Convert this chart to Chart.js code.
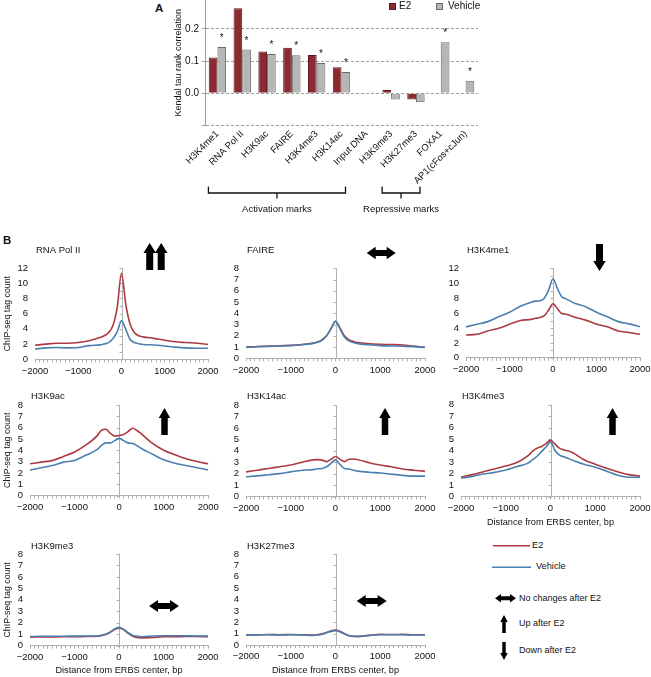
<!DOCTYPE html>
<html><head><meta charset="utf-8">
<script src="https://cdn.jsdelivr.net/npm/chart.js@4.4.1/dist/chart.umd.min.js"></script>
<style>
html,body{margin:0;padding:0;background:#fff;}
#root{position:relative;width:651px;height:677px;overflow:hidden;font-family:"Liberation Sans",Arial,sans-serif;color:#111;}
canvas{position:absolute;}
.t{position:absolute;white-space:nowrap;line-height:1;transform:translateY(-50%);}
#ov{position:absolute;left:0;top:0;z-index:5;}
</style></head><body><div id="root"></div>
<script>
// ---------- DATA: panel A ----------
const categories = ['H3K4me1','RNA Pol II','H3K9ac','FAIRE','H3K4me3','H3K14ac','Input DNA','H3K9me3','H3K27me3','FOXA1','AP1(cFos+cJun)'];
const e2Corr  = [0.111, 0.264, 0.130, 0.142, 0.119, 0.081, -0.002, 0.010, -0.019, null, null];
const vehCorr = [0.144, 0.136, 0.122, 0.118, 0.094, 0.066, 0.000, -0.019, -0.028, 0.159, 0.039];
const significant = [true, true, true, true, true, true, false, false, false, true, true];
const groupLabels = ['Activation marks', 'Repressive marks'];
const groupStart = [0, 7];
const groupEnd = [5, 8];
const corrTicks = [0, 0.1, 0.2];

// ---------- DATA: panel B ----------
const distanceBp = [-2000,-1750,-1500,-1250,-1000,-750,-500,-400,-300,-200,-100,0,100,200,300,400,500,750,1000,1250,1500,1750,2000];
const rnaPolE2   = [1.85,2.0,2.1,2.1,2.2,2.45,2.85,3.1,3.5,4.4,6.8,11.3,7.2,4.6,3.5,3.1,2.95,2.75,2.5,2.3,2.2,2.1,1.95];
const rnaPolVeh  = [1.35,1.5,1.55,1.5,1.55,1.8,1.9,2.0,2.2,2.7,3.6,5.1,3.9,2.6,2.2,2.05,1.95,1.88,1.75,1.6,1.5,1.45,1.45];
const faireE2    = [1.0,1.05,1.08,1.12,1.15,1.22,1.35,1.45,1.65,2.0,2.65,3.3,2.7,2.0,1.65,1.5,1.4,1.3,1.25,1.22,1.18,1.08,0.98];
const faireVeh   = [0.97,1.02,1.05,1.1,1.13,1.2,1.32,1.42,1.62,2.0,2.62,3.28,2.62,1.9,1.55,1.4,1.3,1.2,1.13,1.1,1.07,1.02,0.97];
const k4me1E2    = [3.05,3.15,3.6,3.95,4.5,5.0,5.15,5.3,5.4,5.65,6.4,7.25,6.6,5.95,5.85,5.65,5.45,5.05,4.5,4.15,3.6,3.4,3.15];
const k4me1Veh   = [4.15,4.5,4.85,5.5,6.1,6.9,7.45,7.6,7.65,8.0,9.1,10.6,9.3,8.2,7.9,7.6,7.3,6.85,6.1,5.5,4.85,4.55,4.15];
const k9acE2     = [2.8,2.95,3.1,3.45,3.85,4.45,5.25,5.75,5.85,5.5,5.25,5.3,5.4,5.65,5.95,5.75,5.45,4.6,4.0,3.6,3.25,3.0,2.8];
const k9acVeh    = [2.25,2.45,2.65,2.95,3.1,3.55,4.05,4.4,4.65,4.65,4.85,5.05,4.85,4.65,4.6,4.4,4.15,3.65,3.15,2.85,2.65,2.45,2.25];
const k14acE2    = [2.15,2.3,2.45,2.6,2.75,3.0,3.2,3.22,3.18,3.05,3.25,3.5,3.25,3.05,3.25,3.28,3.22,2.95,2.75,2.6,2.4,2.3,2.2];
const k14acVeh   = [1.72,1.8,1.9,2.0,2.15,2.3,2.35,2.42,2.45,2.6,2.9,3.2,2.8,2.45,2.4,2.3,2.22,2.12,2.06,1.95,1.85,1.78,1.78];
const k4me3E2    = [1.7,1.9,2.15,2.4,2.65,2.95,3.55,3.95,4.2,4.35,4.6,4.9,4.55,4.2,4.05,3.95,3.8,3.2,2.8,2.45,2.15,1.9,1.78];
const k4me3Veh   = [1.58,1.75,1.95,2.1,2.3,2.6,2.9,3.2,3.5,3.9,4.3,4.75,4.0,3.6,3.45,3.3,3.15,2.8,2.55,2.2,1.85,1.68,1.68];
const k9me3E2    = [0.75,0.76,0.77,0.78,0.78,0.8,0.82,0.88,0.98,1.15,1.4,1.52,1.4,1.1,0.85,0.72,0.68,0.72,0.78,0.78,0.8,0.8,0.78];
const k9me3Veh   = [0.8,0.82,0.82,0.83,0.84,0.84,0.84,0.9,1.0,1.2,1.45,1.6,1.45,1.15,0.92,0.82,0.78,0.85,0.87,0.87,0.86,0.85,0.84];
const k27me3E2   = [0.9,0.88,0.92,0.9,0.92,0.9,0.87,0.9,0.98,1.1,1.25,1.32,1.2,1.0,0.82,0.75,0.74,0.85,0.93,0.92,0.93,0.9,0.9];
const k27me3Veh  = [0.88,0.9,0.9,0.88,0.9,0.88,0.85,0.88,0.95,1.07,1.2,1.26,1.15,0.97,0.83,0.78,0.77,0.85,0.9,0.9,0.9,0.88,0.88];
const panelNames = ['RNA Pol II','FAIRE','H3K4me1','H3K9ac','H3K14ac','H3K4me3','H3K9me3','H3K27me3'];
const seriesNames = ['E2','Vehicle'];

// ---------- STYLE ----------
const FONT = '"Liberation Sans", Arial, sans-serif';
const RED = '#ab3b40', BLUE = '#4a7fb0';
Chart.defaults.font.family = FONT;
Chart.defaults.color = '#1a1a1a';
const root = document.getElementById('root');

function addCanvas(r){
  const c = document.createElement('canvas');
  c.width = r.w; c.height = r.h;
  c.style.left = r.x+'px'; c.style.top = r.y+'px';
  c.style.width = r.w+'px'; c.style.height = r.h+'px';
  root.appendChild(c); return c;
}
function addText(txt, x, y, size, extra){
  const d = document.createElement('div');
  d.className = 't'; d.textContent = txt;
  d.style.left = x+'px'; d.style.top = y+'px'; d.style.fontSize = size+'px';
  if (extra) Object.assign(d.style, extra);
  root.appendChild(d); return d;
}

// ---------- PANEL A ----------
const barDecor = {
  id: 'barDecor',
  afterDatasetsDraw(chart){
    const ctx = chart.ctx, meta = chart.getDatasetMeta(1);
    ctx.save();
    ctx.fillStyle = '#111'; ctx.font = '10px '+FONT; ctx.textAlign = 'center'; ctx.textBaseline = 'alphabetic';
    significant.forEach((s,i)=>{ if(!s) return; const el = meta.data[i]; ctx.fillText('*', el.x, el.y - 6); });
    ctx.restore();
  },
  afterDraw(chart){
    const ctx = chart.ctx, xs = chart.scales.x;
    ctx.save();
    ctx.strokeStyle = '#111'; ctx.lineWidth = 1.3;
    ctx.fillStyle = '#111'; ctx.font = '9.5px '+FONT; ctx.textAlign = 'center'; ctx.textBaseline = 'middle';
    groupLabels.forEach((lab,g)=>{
      const a = xs.getPixelForValue(groupStart[g]) - 9, b = xs.getPixelForValue(groupEnd[g]) + 4, m = (a+b)/2;
      ctx.beginPath();
      ctx.moveTo(a, 186.5); ctx.lineTo(a, 193); ctx.lineTo(b, 193); ctx.lineTo(b, 186.5);
      ctx.moveTo(m, 193); ctx.lineTo(m, 198.5);
      ctx.stroke();
      ctx.fillText(lab, m, 209);
    });
    ctx.restore();
  }
};
(function(){
  const r = {x:170, y:0, w:330, h:220};
  const plot = {l:205, r:478, t:0, b:125.5};
  new Chart(addCanvas(r), {
    type: 'bar',
    data: { labels: categories, datasets: [
      {label: seriesNames[0], data: e2Corr, backgroundColor:'#8b2a32', borderColor:'#5c1a20', borderWidth:1},
      {label: seriesNames[1], data: vehCorr, backgroundColor:'#b6b6b6', borderColor:'#6a6a6a', borderWidth:1}
    ]},
    options: {
      responsive:false, devicePixelRatio:1, animation:false, events:[],
      layout:{padding:{left:0, top:plot.t - r.y, right:r.x + r.w - plot.r, bottom:0}},
      datasets:{bar:{categoryPercentage:0.7, barPercentage:1.0}},
      plugins:{legend:{display:false}, tooltip:{enabled:false}},
      scales:{
        x:{
          afterFit(s){ s.height = r.y + r.h - plot.b; s.paddingLeft = 0; s.paddingRight = 0; },
          grid:{display:false, drawTicks:false}, border:{display:false},
          ticks:{autoSkip:false, minRotation:45, maxRotation:45, padding:3, font:{size:9.5}, color:'#111'}
        },
        y:{
          min:-0.1, max:0.29,
          afterFit(s){ s.width = plot.l - r.x; s.paddingTop = 0; s.paddingBottom = 0; },
          ticks:{stepSize:0.1, padding:3, font:{size:10}, color:'#111',
            callback(v){ const q = Math.round(v*100)/100; return corrTicks.includes(q) ? q.toFixed(1) : ''; }},
          grid:{color(c){ return (c.tick && c.tick.value > 0.25) ? 'rgba(0,0,0,0)' : '#a0a0a0'; }, tickLength:3, lineWidth:1},
          border:{display:true, color:'#9a9a9a', dash:[3,2]},
          title:{display:true, text:'Kendal tau rank correlation', font:{size:9}, color:'#111', padding:{top:3, bottom:0}}
        }
      }
    },
    plugins:[barDecor]
  });
})();

// ---------- PANEL B ----------
const profileDecor = {
  id: 'profileDecor',
  beforeDatasetsDraw(chart, args, opts){
    const {ctx, chartArea, scales:{x, y}} = chart;
    const x0 = Math.round(x.getPixelForValue(0)) + 0.5;
    ctx.save();
    ctx.strokeStyle = '#b0b0b0'; ctx.lineWidth = 1;
    ctx.beginPath();
    ctx.moveTo(x0, y.getPixelForValue(0)); ctx.lineTo(x0, y.getPixelForValue(y.max));
    for (let v = 0; v <= y.max; v++){ const py = Math.round(y.getPixelForValue(v)) + 0.5; ctx.moveTo(x0-3, py); ctx.lineTo(x0, py); }
    ctx.stroke();
    ctx.fillStyle = '#111'; ctx.font = '9.5px '+FONT; ctx.textBaseline = 'middle'; ctx.textAlign = 'left';
    ctx.fillText(opts.title, chartArea.left + opts.dx, opts.ty);
    ctx.restore();
  }
};
function toXY(arr){ return distanceBp.map((d,i)=>({x:d, y:arr[i]})); }
function profile(r, plot, title, titleY, ymax, e2, veh, yTitle, xTitle){
  new Chart(addCanvas(r), {
    type:'line',
    data:{datasets:[
      {label:seriesNames[0], data:toXY(e2), borderColor:RED, borderWidth:1.6, pointRadius:0, cubicInterpolationMode:'monotone', order:1},
      {label:seriesNames[1], data:toXY(veh), borderColor:BLUE, borderWidth:1.6, pointRadius:0, cubicInterpolationMode:'monotone', order:0}
    ]},
    options:{
      responsive:false, devicePixelRatio:1, animation:false, events:[],
      layout:{padding:{left:0, top:plot.t - r.y, right:r.x + r.w - plot.r, bottom:0}},
      plugins:{legend:{display:false}, tooltip:{enabled:false}, profileDecor:{title:title, dx:1, ty:titleY - r.y}},
      scales:{
        x:{type:'linear', min:-2000, max:2000,
          afterFit(s){ s.height = r.y + r.h - plot.b; s.paddingLeft = 0; s.paddingRight = 0; },
          ticks:{stepSize:100, autoSkip:false, maxRotation:0, padding:3, font:{size:9.5}, color:'#111',
            callback(v){ v = Math.round(v); return v % 1000 === 0 ? (v < 0 ? '\u2212' + (-v) : String(v)) : ''; }},
          grid:{drawOnChartArea:false, tickLength:3, color:'#b0b0b0'},
          border:{color:'#b0b0b0'},
          title:{display:!!xTitle, text:xTitle || '', font:{size:9.2}, color:'#111', padding:{top:0, bottom:1}}
        },
        y:{min:0, max:ymax,
          afterFit(s){ s.width = plot.l - r.x; s.paddingTop = 0; s.paddingBottom = 0; },
          ticks:{stepSize: ymax > 8 ? 2 : 1, autoSkip:false, padding:7, font:{size:9.5}, color:'#111'},
          grid:{display:false, drawTicks:false, tickLength:0}, border:{display:false},
          title:{display:!!yTitle, text:yTitle || '', font:{size:8.8}, color:'#111', padding:{top:2, bottom:0}}
        }
      }
    },
    plugins:[profileDecor]
  });
}
const YT = 'ChIP-seq tag count', XT = 'Distance from ERBS center, bp';
profile({x:0,y:240,w:222,h:142},   {l:35,r:208,t:268,b:359.3},   panelNames[0], 250.7, 12, rnaPolE2, rnaPolVeh, YT, null);
profile({x:225,y:240,w:215,h:142}, {l:246,r:425,t:268.3,b:358.3}, panelNames[1], 250.2, 8, faireE2, faireVeh, null, null);
profile({x:440,y:240,w:211,h:142}, {l:466,r:640,t:268.3,b:357.8}, panelNames[2], 250.7, 12, k4me1E2, k4me1Veh, null, null);
profile({x:0,y:386,w:222,h:132},   {l:30,r:208.3,t:405,b:495.5},  panelNames[3], 396.6, 8, k9acE2, k9acVeh, YT, null);
profile({x:225,y:386,w:215,h:132}, {l:246,r:425,t:405,b:496.5},   panelNames[4], 396.0, 8, k14acE2, k14acVeh, null, null);
profile({x:440,y:386,w:211,h:143}, {l:461,r:640,t:404.5,b:496.5}, panelNames[5], 396.6, 8, k4me3E2, k4me3Veh, null, XT);
profile({x:0,y:536,w:222,h:141},   {l:30,r:208,t:554,b:645.7},    panelNames[6], 546.7, 8, k9me3E2, k9me3Veh, YT, XT);
profile({x:225,y:536,w:215,h:141}, {l:246,r:425,t:554,b:645},     panelNames[7], 546.7, 8, k27me3E2, k27me3Veh, null, XT);

// ---------- labels, legends, arrows ----------
addText('A', 155, 9, 11.5, {fontWeight:'bold'});
addText('B', 3, 241, 11.5, {fontWeight:'bold'});
function box(x, y, s, bg, bd){ const d=document.createElement('div'); Object.assign(d.style,{position:'absolute',left:x+'px',top:y+'px',width:s+'px',height:s+'px',background:bg,border:'1px solid '+bd,boxSizing:'border-box'}); root.appendChild(d); }
box(389, 2.5, 7, '#8b2a32', '#5c1a20'); addText(seriesNames[0], 399, 6, 10);
box(436, 2.5, 7, '#b6b6b6', '#6a6a6a'); addText(seriesNames[1], 448, 6, 10);
addText(seriesNames[0], 532, 545.7, 9.2);
addText(seriesNames[1], 536, 567.3, 9.2);
addText('No changes after E2', 519, 598.3, 9);
addText('Up after E2', 519, 623.3, 9);
addText('Down after E2', 519, 650, 9);

const NS = 'http://www.w3.org/2000/svg';
const svg = document.createElementNS(NS, 'svg');
svg.setAttribute('id','ov'); svg.setAttribute('width', 651); svg.setAttribute('height', 677);
root.appendChild(svg);
function poly(pts){ const p = document.createElementNS(NS,'polygon'); p.setAttribute('points', pts.map(q=>q.join(',')).join(' ')); p.setAttribute('fill','#000'); svg.appendChild(p); }
function line(x1,y1,x2,y2,col){ const l=document.createElementNS(NS,'line'); l.setAttribute('x1',x1);l.setAttribute('y1',y1);l.setAttribute('x2',x2);l.setAttribute('y2',y2); l.setAttribute('stroke',col); l.setAttribute('stroke-width',1.6); svg.appendChild(l); }
function upArrow(cx, y0, y1, w, s, hh){ poly([[cx,y0],[cx+w/2,y0+hh],[cx+s/2,y0+hh],[cx+s/2,y1],[cx-s/2,y1],[cx-s/2,y0+hh],[cx-w/2,y0+hh]]); }
function downArrow(cx, y0, y1, w, s, hh){ poly([[cx,y1],[cx+w/2,y1-hh],[cx+s/2,y1-hh],[cx+s/2,y0],[cx-s/2,y0],[cx-s/2,y1-hh],[cx-w/2,y1-hh]]); }
function dblArrow(x0, x1, cy, h, s, hw){ poly([[x0,cy],[x0+hw,cy-h/2],[x0+hw,cy-s/2],[x1-hw,cy-s/2],[x1-hw,cy-h/2],[x1,cy],[x1-hw,cy+h/2],[x1-hw,cy+s/2],[x0+hw,cy+s/2],[x0+hw,cy+h/2]]); }

upArrow(149.7, 243, 270, 12.5, 7, 10); upArrow(161.2, 243, 270, 12.5, 7, 10);
dblArrow(366.7, 395.7, 253, 12.5, 6, 9);
downArrow(599.5, 244, 271, 12.5, 7, 10);
upArrow(164.5, 408, 435, 11.5, 6.5, 10);
upArrow(385, 408, 435, 11.5, 6.5, 10);
upArrow(612.5, 408, 435, 11.5, 6.5, 10);
dblArrow(149, 179, 606, 12, 6, 9);
dblArrow(356.7, 386.7, 601, 12, 6, 9);
line(493, 545.7, 530, 545.7, RED);
line(492, 567.3, 531, 567.3, BLUE);
dblArrow(495, 516, 598.3, 8.5, 4, 6);
upArrow(504, 615, 633, 7.5, 3.5, 7);
downArrow(504, 642, 660, 7.5, 3.5, 7);
</script></body></html>
